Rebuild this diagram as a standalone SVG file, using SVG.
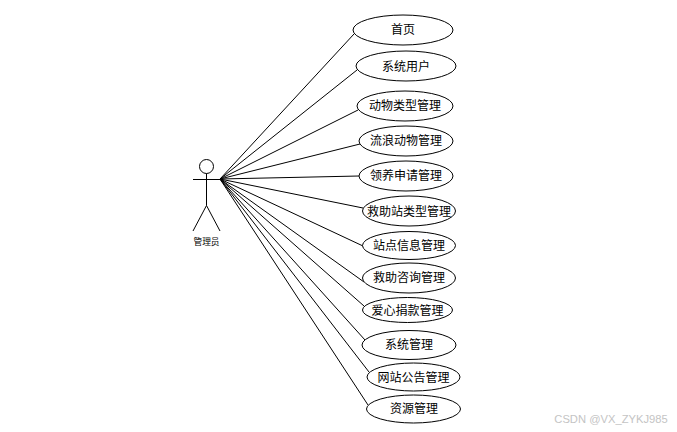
<svg xmlns="http://www.w3.org/2000/svg" width="677" height="432" viewBox="0 0 677 432">
<style>
.s{fill:none;stroke:#000;stroke-width:1}
.u{fill:#fff;stroke:#000;stroke-width:1}
text{font-family:"Noto Sans CJK SC","Liberation Sans",sans-serif;font-size:12px;fill:#000;text-anchor:middle;dominant-baseline:central}
</style>
<rect width="677" height="432" fill="#fff"/>
<g id="connectors" class="s">
<line x1="220" y1="179" x2="354" y2="34"/>
<line x1="220" y1="179" x2="357" y2="70"/>
<line x1="220" y1="179" x2="358" y2="110"/>
<line x1="220" y1="179" x2="360" y2="144"/>
<line x1="220" y1="179" x2="359" y2="176"/>
<line x1="220" y1="179" x2="363" y2="208"/>
<line x1="220" y1="179" x2="363" y2="246"/>
<line x1="220" y1="179" x2="364" y2="282"/>
<line x1="220" y1="179" x2="364" y2="306"/>
<line x1="220" y1="179" x2="365" y2="340"/>
<line x1="220" y1="179" x2="369" y2="372"/>
<line x1="220" y1="179" x2="368" y2="405"/>
</g>
<g id="actor">
<circle class="s" cx="206.5" cy="166.5" r="7"/>
<path class="s" d="M193 179.5H220M206.5 173.5V205.5L193 231M206.5 205.5L220 231"/>
<text x="206.5" y="241" style="font-size:8.7px">管理员</text>
</g>
<g id="n1"><ellipse class="u" cx="403" cy="30" rx="50" ry="15"/><text x="403" y="28.5">首页</text></g>
<g id="n2"><ellipse class="u" cx="406" cy="66" rx="50" ry="15"/><text x="406" y="65">系统用户</text></g>
<g id="n3"><ellipse class="u" cx="405" cy="106" rx="48" ry="15"/><text x="405" y="104.5">动物类型管理</text></g>
<g id="n4"><ellipse class="u" cx="406" cy="141" rx="47" ry="15"/><text x="406" y="139.5">流浪动物管理</text></g>
<g id="n5"><ellipse class="u" cx="406" cy="176" rx="47" ry="15"/><text x="406" y="174.5">领养申请管理</text></g>
<g id="n6"><ellipse class="u" cx="409" cy="211" rx="46.5" ry="15"/><text x="409" y="210">救助站类型管理</text></g>
<g id="n7"><ellipse class="u" cx="409" cy="245.5" rx="46.5" ry="14"/><text x="409" y="244.5">站点信息管理</text></g>
<g id="n8"><ellipse class="u" cx="409" cy="278" rx="46.5" ry="15"/><text x="409" y="276.5">救助咨询管理</text></g>
<g id="n9"><ellipse class="u" cx="407.5" cy="310" rx="45" ry="12.5"/><text x="407.5" y="309">爱心捐款管理</text></g>
<g id="n10"><ellipse class="u" cx="409" cy="345" rx="47" ry="14.5"/><text x="409" y="343.500">系统管理</text></g>
<g id="n11"><ellipse class="u" cx="413.5" cy="377" rx="46.5" ry="14"/><text x="413.5" y="376">网站公告管理</text></g>
<g id="n12"><ellipse class="u" cx="413.5" cy="409" rx="47" ry="14"/><text x="414" y="407.500">资源管理</text></g>
<text x="611" y="419" style="font-family:'Liberation Sans',sans-serif;font-size:11.2px;fill:#c4c4c4">CSDN @VX_ZYKJ985</text>
</svg>
